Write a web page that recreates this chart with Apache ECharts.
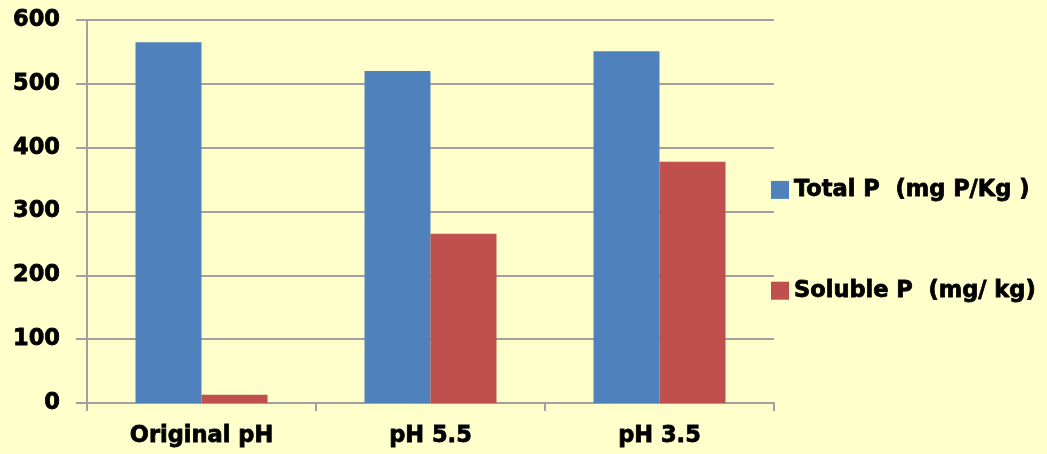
<!DOCTYPE html>
<html>
<head>
<meta charset="utf-8">
<script src="https://cdn.jsdelivr.net/npm/echarts@6/dist/echarts.min.js"></script>
<style>
  html, body { margin: 0; padding: 0; background: #ffffcc; }
  #chart { width: 1047px; height: 454px; }
</style>
</head>
<body>
<div id="chart"></div>
<script>
// values
var categories = ['Original pH', 'pH 5.5', 'pH 3.5'];
var totalP = [565, 520, 551];
var solubleP = [13, 265, 378];
var yTicks = [0, 100, 200, 300, 400, 500, 600];

var font = 'DejaVu Sans';
// heavy black text, a thin stroke makes it look closer to the original
var heavy = { fontFamily: font, fontWeight: 'bold', color: '#000', textBorderColor: '#000', textBorderWidth: 0.8 };
var chart = echarts.init(document.getElementById('chart'));

chart.setOption({
  backgroundColor: '#ffffcc',
  animation: false,
  textStyle: { fontFamily: font },
  grid: { left: 87, right: 273, top: 20, bottom: 51, containLabel: false },
  legend: {
    orient: 'vertical',
    left: 771,
    top: 178,
    padding: 0,
    itemWidth: 18,
    itemHeight: 18,
    itemGap: 77,
    icon: 'rect',
    textStyle: Object.assign({ fontSize: 22.5 }, heavy)
  },
  xAxis: {
    type: 'category',
    data: categories,
    axisLine: { lineStyle: { color: '#a0a0a0', width: 2 } },
    axisTick: { show: true, length: 8, lineStyle: { color: '#a0a0a0', width: 2 } },
    axisLabel: Object.assign({ fontSize: 22.5, margin: 22 }, heavy)
  },
  yAxis: {
    type: 'value',
    min: yTicks[0],
    max: yTicks[yTicks.length - 1],
    interval: 100,
    axisLine: { show: true, lineStyle: { color: '#a0a0a0', width: 2 } },
    axisTick: { show: true, length: 11, lineStyle: { color: '#a0a0a0', width: 2 } },
    splitLine: { lineStyle: { color: '#a0a0a0', width: 2 } },
    axisLabel: Object.assign({ fontSize: 22.5, margin: 27 }, heavy)
  },
  series: [
    {
      name: 'Total P  (mg P/Kg )',
      type: 'bar',
      data: totalP,
      barWidth: 66,
      barGap: '0%',
      itemStyle: { color: '#4f81bd' }
    },
    {
      name: 'Soluble P  (mg/ kg)',
      type: 'bar',
      data: solubleP,
      barWidth: 66,
      itemStyle: { color: '#c0504d' }
    }
  ]
});
</script>
</body>
</html>
